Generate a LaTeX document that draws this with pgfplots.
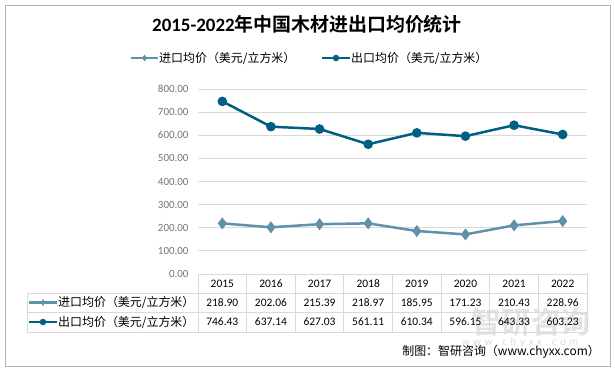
\documentclass[border=0pt]{standalone}
\usepackage{pgfplots}
\pgfplotsset{compat=1.18}
\usepackage{fontspec}
\setmainfont{Carlito}
\newfontfamily\cjk{Noto Sans CJK SC}[BoldFont={Noto Sans CJK SC Bold}]
\definecolor{imp}{RGB}{94,146,170}
\definecolor{exp}{RGB}{0,95,131}
\definecolor{gridc}{RGB}{217,217,217}
\definecolor{tickc}{RGB}{118,118,118}
\begin{document}
\begin{tikzpicture}[x=1bp,y=1bp]
\fill[white] (0,0) rectangle (615,371);
\draw[gray!60, line width=0.8bp] (5,5) rectangle (610,366);
% watermark
\node[text=gray!22, font=\cjk\fontsize{30}{32}\selectfont\bfseries, anchor=center] at (531,49) {智研咨询};
\node[text=gray!28, font=\fontsize{11}{12}\selectfont, anchor=center] at (520,28) {w\,\,w\,\,w\,\,.\,\,c\,\,h\,\,y\,\,x\,\,x\,\,.\,\,c\,\,o\,\,m};
% title
\node[font=\fontsize{19}{22}\selectfont\bfseries] at (307,347) {2015-2022{\cjk\bfseries 年中国木材进出口均价统计}};
% legend
\draw[imp, line width=2.5bp] (131,313) -- (158,313);
\draw[imp] plot[mark=diamond*, mark size=3bp] coordinates {(144.5,313)};
\node[anchor=west, inner sep=0, font=\cjk\fontsize{12}{14}\selectfont] at (159,313) {进口均价（美元/立方米）};
\draw[exp, line width=2.5bp] (322,313) -- (350,313);
\draw[exp] plot[mark=*, mark size=3bp] coordinates {(336,313)};
\node[anchor=west, inner sep=0, font=\cjk\fontsize{12}{14}\selectfont] at (351,313) {出口均价（美元/立方米）};
\begin{axis}[
  at={(198bp,97bp)}, anchor=south west,
  scale only axis, width=389bp, height=185bp,
  xmin=-0.5, xmax=7.5, ymin=0, ymax=800,
  ytick={0,100,...,800}, xtick=\empty,
  axis line style={draw=none}, major tick length=0pt,
  ymajorgrids, grid style={gridc, line width=0.8bp},
  yticklabel style={font=\fontsize{11}{13}\selectfont, text=tickc, xshift=-6bp},
  /pgf/number format/assume math mode=true,
  yticklabel={\pgfmathprintnumber[fixed, fixed zerofill, precision=2]{\tick}},
  clip=false,
]
\addplot[imp, line width=2.5bp, mark=diamond*, mark size=4bp] coordinates {
 (0,218.90) (1,202.06) (2,215.39) (3,218.97) (4,185.95) (5,171.23) (6,210.43) (7,228.96)};
\addplot[exp, line width=2.5bp, mark=*, mark size=3.5bp] coordinates {
 (0,746.43) (1,637.14) (2,627.03) (3,561.11) (4,610.34) (5,596.15) (6,643.33) (7,603.23)};
\end{axis}
% data table
\foreach \k in {0,...,8} { \draw[gridc, line width=0.8bp] ({198+48.625*\k},97) -- ({198+48.625*\k},39); }
\foreach \yy in {78,58.5,39} { \draw[gridc, line width=0.8bp] (27,\yy) -- (587,\yy); }
\draw[gridc, line width=0.8bp] (27,78) -- (27,39);
\foreach \yr [count=\i from 0] in {2015,2016,2017,2018,2019,2020,2021,2022} {
  \node[font=\fontsize{11.5}{13}\selectfont] at ({198+48.625*(\i+0.5)},87.5) {\yr};
}
\foreach \v [count=\i from 0] in {218.90,202.06,215.39,218.97,185.95,171.23,210.43,228.96} {
  \node[font=\fontsize{11.5}{13}\selectfont] at ({198+48.625*(\i+0.5)},68.5) {\v};
}
\foreach \v [count=\i from 0] in {746.43,637.14,627.03,561.11,610.34,596.15,643.33,603.23} {
  \node[font=\fontsize{11.5}{13}\selectfont] at ({198+48.625*(\i+0.5)},49) {\v};
}
\draw[imp, line width=2.5bp] (29,68.5) -- (57,68.5);
\draw[imp] plot[mark=diamond*, mark size=3bp] coordinates {(43,68.5)};
\node[anchor=west, inner sep=0, font=\cjk\fontsize{12}{14}\selectfont] at (58,68.5) {进口均价（美元/立方米）};
\draw[exp, line width=2.5bp] (29,49) -- (57,49);
\draw[exp] plot[mark=*, mark size=3bp] coordinates {(43,49)};
\node[anchor=west, inner sep=0, font=\cjk\fontsize{12}{14}\selectfont] at (58,49) {出口均价（美元/立方米）};
% source
\node[anchor=east, inner sep=0, font=\cjk\fontsize{12}{14}\selectfont] at (600,19) {制图：智研咨询（www.chyxx.com）};
\end{tikzpicture}
\end{document}
